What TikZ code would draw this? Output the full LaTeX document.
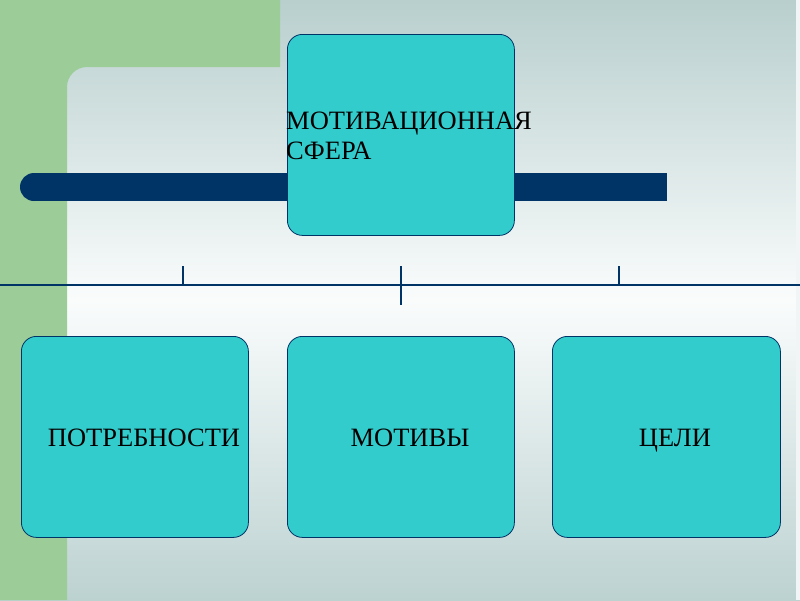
\documentclass[tikz,border=0pt]{standalone}
\usepackage{fontspec}
\setmainfont{Liberation Serif}
\definecolor{leaf}{HTML}{9CCC97}
\definecolor{navy}{HTML}{003366}
\definecolor{aqua}{HTML}{33CCCC}
\definecolor{bgtop}{HTML}{B8CFCE}
\definecolor{bgmid}{HTML}{FAFCFC}
\definecolor{bgbot}{HTML}{BCD2D1}
\pgfdeclareverticalshading{bgshade}{100bp}{color(0bp)=(bgbot); color(25bp)=(bgbot); color(50bp)=(bgmid); color(75bp)=(bgtop); color(100bp)=(bgtop)}
\tikzset{
  box/.style={draw=navy, line width=0.8pt, fill=aqua, rounded corners=15pt, minimum width=227pt, minimum height=201pt, inner sep=0pt, anchor=north west},
  lbl/.style={font=\fontsize{26.5}{30.7}\selectfont, text=black, inner sep=0pt},
  rule/.style={draw=navy, line width=2pt},
  tick/.style={draw=navy, line width=1.6pt}
}
\begin{document}
\begin{tikzpicture}[x=1pt, y=-1pt]
\useasboundingbox (0,0) rectangle (800,600);
% background
\shade[shading=bgshade] (0,0) rectangle (800,600);
\fill[leaf] (0,0) -- (280,0) -- (280,67) -- (87,67) arc[start angle=270, end angle=180, radius=20] -- (67,600) -- (0,600) -- cycle;
\fill[white!80!bgtop] (796,0) rectangle (800,600);
% navy bar
\fill[navy] (34,173) rectangle (667,201);
\fill[navy] (34,187) circle[radius=14];
% top box
\node[box] (top) at (287,34) {};
\node[lbl, align=left, anchor=north west] (toplbl) at (286,111.5) {МОТИВАЦИОННАЯ\\СФЕРА};
% rule and ticks
\coordinate (rl) at (0,285);
\coordinate (rr) at (800,285);
\draw[rule] (rl) -- (rr);
\coordinate (t1a) at (183,266); \coordinate (t1b) at (183,285);
\coordinate (t2a) at (401,266); \coordinate (t2b) at (401,305);
\coordinate (t3a) at (619,266); \coordinate (t3b) at (619,285);
\draw[tick] (t1a) -- (t1b);
\draw[tick] (t2a) -- (t2b);
\draw[tick] (t3a) -- (t3b);
% bottom boxes
\node[box] (need) at (21,336) {};
\node[box] (mot) at (287,336) {};
\node[box, minimum width=228pt] (goal) at (552,336) {};
\node[lbl, anchor=base] (needlbl) at (144,446) {ПОТРЕБНОСТИ};
\node[lbl, anchor=base] (motlbl) at (410,446) {МОТИВЫ};
\node[lbl, anchor=base] (goallbl) at (675,446) {ЦЕЛИ};
\end{tikzpicture}
\end{document}
